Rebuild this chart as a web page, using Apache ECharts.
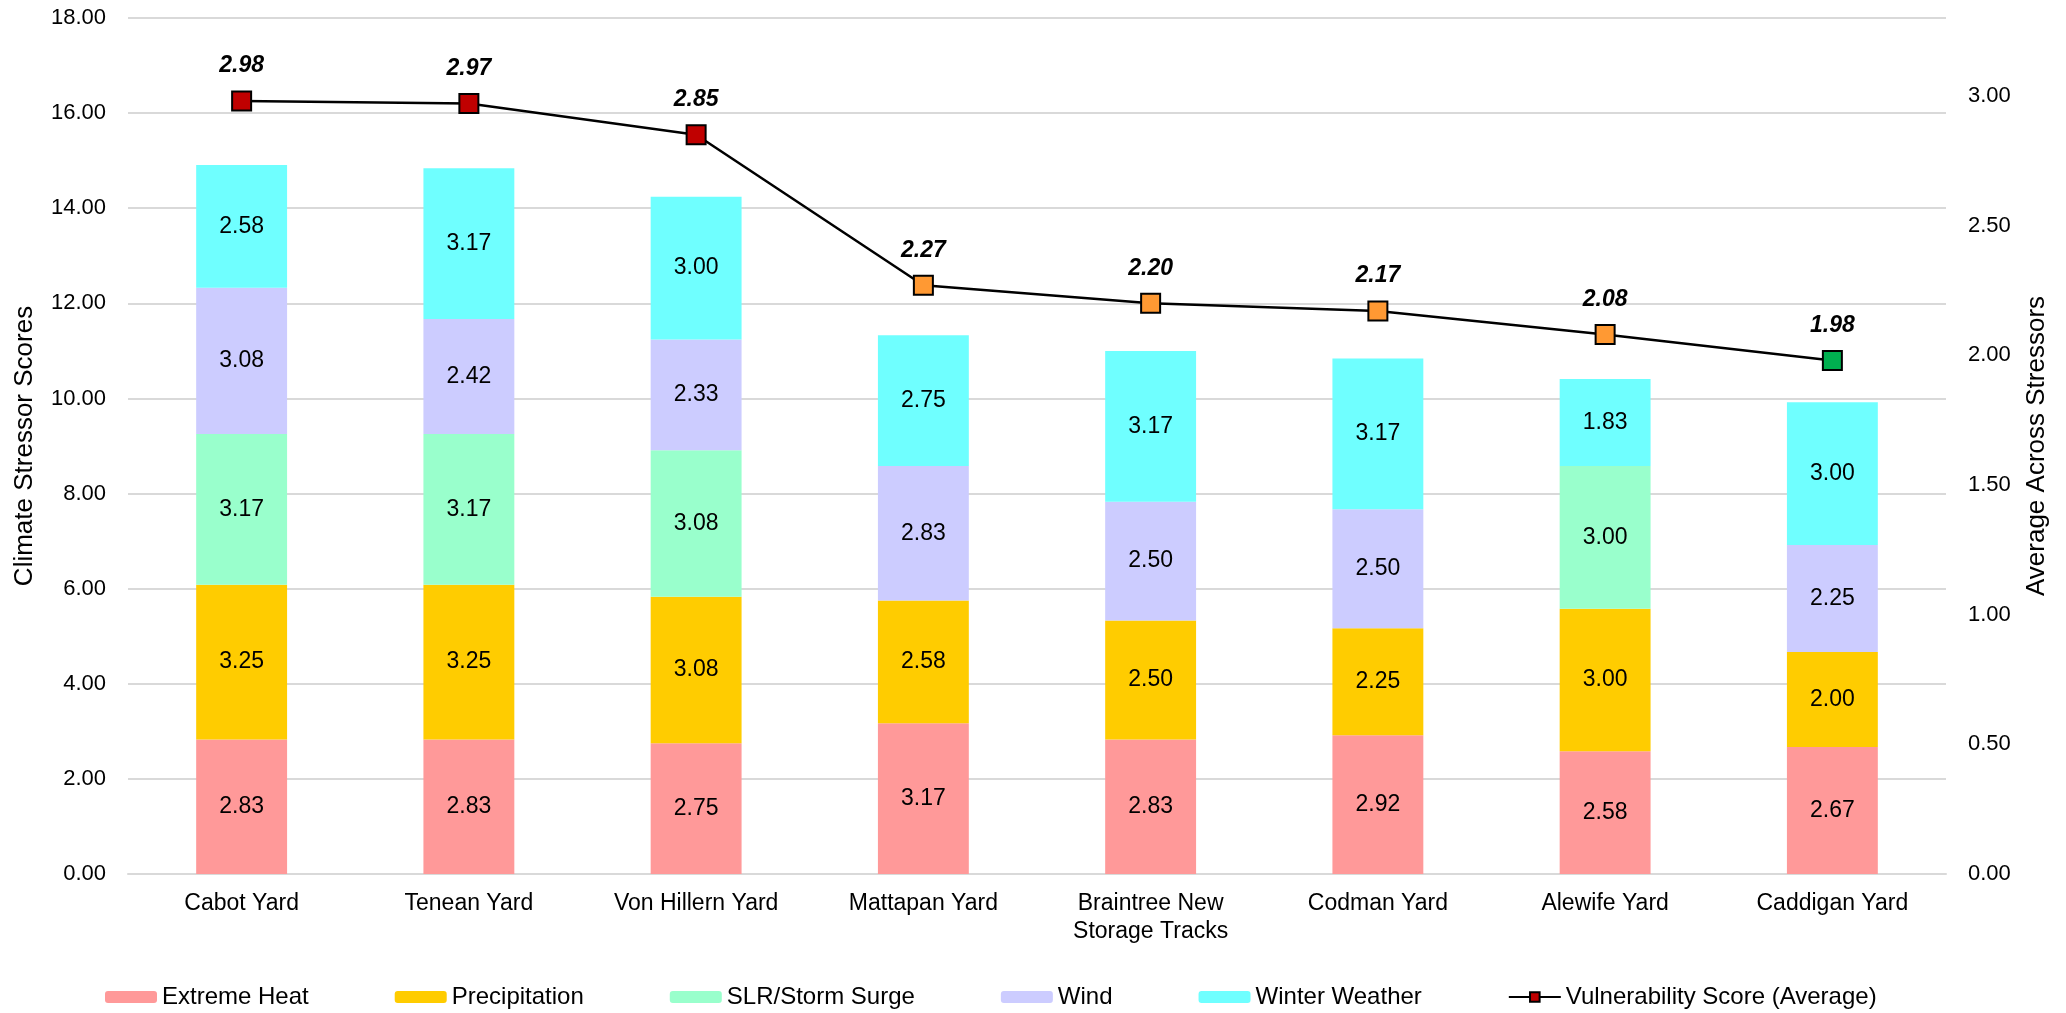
<!DOCTYPE html>
<html>
<head>
<meta charset="utf-8">
<script src="https://cdn.jsdelivr.net/npm/echarts@6/dist/echarts.min.js"></script>
<style>
html,body{margin:0;padding:0;background:#fff;}
#chart{width:2066px;height:1013px;}
</style>
</head>
<body>
<div id="chart"></div>
<script>
const categories = ['Cabot Yard','Tenean Yard','Von Hillern Yard','Mattapan Yard','Braintree New\nStorage Tracks','Codman Yard','Alewife Yard','Caddigan Yard'];
const extremeHeat   = [2.83, 2.83, 2.75, 3.17, 2.83, 2.92, 2.58, 2.67];
const precipitation = [3.25, 3.25, 3.08, 2.58, 2.50, 2.25, 3.00, 2.00];
const slrStorm      = [3.17, 3.17, 3.08, null, null, null, 3.00, null];
const wind          = [3.08, 2.42, 2.33, 2.83, 2.50, 2.50, null, 2.25];
const winterWeather = [2.58, 3.17, 3.00, 2.75, 3.17, 3.17, 1.83, 3.00];
const vulnerability = [2.98, 2.97, 2.85, 2.27, 2.20, 2.17, 2.08, 1.98];
const vulnColors    = ['#C00000','#C00000','#C00000','#FF9933','#FF9933','#FF9933','#FF9933','#00B050'];
const leftTicks = {min:0, max:18, interval:2};
const rightTicks = {min:0, max:3.3, interval:0.5};

const FONT = 'Liberation Sans, Arial, sans-serif';
const chart = echarts.init(document.getElementById('chart'));

function barSeries(name, data, color){
  return {
    name: name, type: 'bar', stack: 'total', data: data, barWidth: '40%',
    itemStyle: {color: color},
    label: {show: true, position: 'inside', color: '#000', fontFamily: FONT, fontSize: 23,
      formatter: p => (p.value == null ? '' : Number(p.value).toFixed(2))},
    emphasis: {disabled: true}
  };
}

chart.setOption({
  animation: false,
  backgroundColor: '#fff',
  textStyle: {fontFamily: FONT},
  grid: {left: 128, right: 120, top: 18, bottom: 139, containLabel: false},
  legend: {
    left: 100, top: 980, itemWidth: 52, itemHeight: 12, itemGap: 86,
    textStyle: {fontFamily: FONT, fontSize: 24, color: '#000'},
    data: ['Extreme Heat','Precipitation','SLR/Storm Surge','Wind','Winter Weather','Vulnerability Score (Average)']
  },
  xAxis: {
    type: 'category', data: categories,
    axisLine: {lineStyle: {color: '#D9D9D9', width: 2}},
    axisTick: {show: false},
    axisLabel: {color: '#000', fontFamily: FONT, fontSize: 23, margin: 16, lineHeight: 28, interval: 0}
  },
  yAxis: [
    {
      type: 'value', min: leftTicks.min, max: leftTicks.max, interval: leftTicks.interval,
      name: 'Climate Stressor Scores', nameLocation: 'middle', nameGap: 90, nameRotate: 90,
      nameTextStyle: {fontFamily: FONT, fontSize: 26, color: '#000'},
      axisLine: {show: false}, axisTick: {show: false},
      axisLabel: {color: '#000', fontFamily: FONT, fontSize: 22, margin: 22, formatter: v => v.toFixed(2)},
      splitLine: {lineStyle: {color: '#D9D9D9', width: 2}}
    },
    {
      type: 'value', min: rightTicks.min, max: rightTicks.max, interval: rightTicks.interval,
      name: 'Average Across Stressors', nameLocation: 'middle', nameGap: 78, nameRotate: 90,
      nameTextStyle: {fontFamily: FONT, fontSize: 26, color: '#000'},
      axisLine: {show: false}, axisTick: {show: false},
      axisLabel: {color: '#000', fontFamily: FONT, fontSize: 22, margin: 22, showMaxLabel: false,
        formatter: v => v.toFixed(2)},
      splitLine: {show: false}
    }
  ],
  series: [
    barSeries('Extreme Heat', extremeHeat, '#FF9999'),
    barSeries('Precipitation', precipitation, '#FFCC00'),
    barSeries('SLR/Storm Surge', slrStorm, '#99FFCC'),
    barSeries('Wind', wind, '#CCCCFF'),
    barSeries('Winter Weather', winterWeather, '#6FFFFF'),
    {
      name: 'Vulnerability Score (Average)', type: 'line', yAxisIndex: 1,
      data: vulnerability.map((v, i) => ({value: v, itemStyle: {color: vulnColors[i]}})),
      symbol: 'rect', symbolSize: 19,
      lineStyle: {color: '#000', width: 2.5},
      itemStyle: {color: '#C00000', borderColor: '#000', borderWidth: 2},
      label: {show: true, position: 'top', distance: 13, color: '#000', fontFamily: FONT,
        fontSize: 23, fontWeight: 'bold', fontStyle: 'italic', formatter: p => Number(p.value).toFixed(2)},
      emphasis: {disabled: true}, z: 5
    }
  ]
});
</script>
</body>
</html>
